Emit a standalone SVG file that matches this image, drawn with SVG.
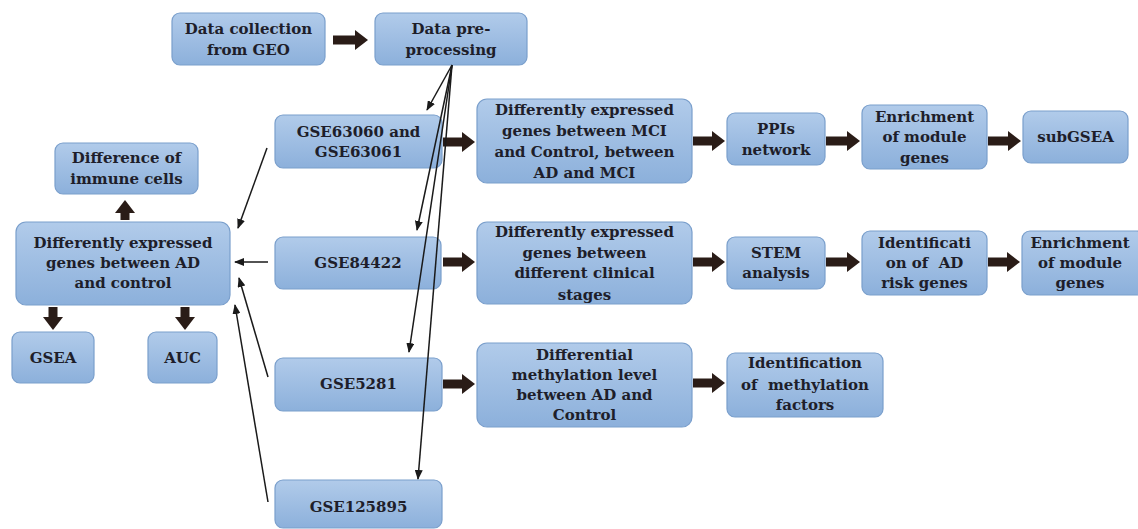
<svg xmlns="http://www.w3.org/2000/svg" width="1138" height="529" viewBox="0 0 1138 529">
<defs>
<linearGradient id="g" x1="0" y1="0" x2="0" y2="1">
<stop offset="0" stop-color="#b1cbea"/>
<stop offset="1" stop-color="#8cb0db"/>
</linearGradient>
<marker id="fat" markerUnits="userSpaceOnUse" markerWidth="14" markerHeight="20" refX="1" refY="10" orient="auto" viewBox="0 0 14 20">
<path d="M0,0 L13,10 L0,20 z" fill="#2a1c17"/>
</marker>
<marker id="thin" markerUnits="userSpaceOnUse" markerWidth="10" markerHeight="8" refX="9" refY="4" orient="auto" viewBox="0 0 10 8">
<path d="M0,0 L10,4 L0,8 z" fill="#1a1a1a"/>
</marker>
</defs>
<style>
.b{fill:url(#g);stroke:#7a9fcc;stroke-width:1.2}
.t{font-family:"DejaVu Serif","Liberation Serif",serif;font-weight:bold;font-size:15px;fill:#1e1e2a;text-anchor:middle;white-space:pre}
.fa{stroke:#2a1c17;stroke-width:9;fill:none;marker-end:url(#fat)}
.ta{stroke:#1a1a1a;stroke-width:1.5;fill:none;marker-end:url(#thin)}
</style>
<rect width="1138" height="529" fill="#ffffff"/>

<g id="n1"><rect class="b" x="172" y="13" width="153" height="52" rx="8"/><text class="t" x="248.5" y="34">Data collection</text><text class="t" x="248.5" y="55">from GEO</text></g>
<g id="n2"><rect class="b" x="375" y="13" width="152" height="52" rx="8"/><text class="t" x="451" y="34">Data pre-</text><text class="t" x="451" y="55">processing</text></g>
<g id="n3"><rect class="b" x="275" y="115" width="167" height="53" rx="8"/><text class="t" x="358.5" y="137">GSE63060 and</text><text class="t" x="358.5" y="157">GSE63061</text></g>
<g id="n4"><rect class="b" x="477" y="99" width="215" height="84" rx="10"/><text class="t" x="584.5" y="115">Differently expressed</text><text class="t" x="584.5" y="136">genes between MCI</text><text class="t" x="584.5" y="157">and Control, between</text><text class="t" x="584.5" y="178">AD and MCI</text></g>
<g id="n5"><rect class="b" x="727" y="113" width="98" height="52" rx="8"/><text class="t" x="776" y="134">PPIs</text><text class="t" x="776" y="155">network</text></g>
<g id="n6"><rect class="b" x="862" y="105" width="125" height="64" rx="8"/><text class="t" x="924.5" y="122">Enrichment</text><text class="t" x="924.5" y="142">of module</text><text class="t" x="924.5" y="163">genes</text></g>
<g id="n7"><rect class="b" x="1023" y="111" width="105" height="52" rx="8"/><text class="t" x="1075.5" y="142">subGSEA</text></g>
<g id="n8"><rect class="b" x="275" y="237" width="166" height="52" rx="8"/><text class="t" x="358" y="268">GSE84422</text></g>
<g id="n9"><rect class="b" x="477" y="222" width="215" height="82" rx="10"/><text class="t" x="584.5" y="237">Differently expressed</text><text class="t" x="584.5" y="258">genes between</text><text class="t" x="584.5" y="278">different clinical</text><text class="t" x="584.5" y="300">stages</text></g>
<g id="n10"><rect class="b" x="727" y="237" width="98" height="52" rx="8"/><text class="t" x="776" y="258">STEM</text><text class="t" x="776" y="278">analysis</text></g>
<g id="n11"><rect class="b" x="862" y="231" width="125" height="64" rx="8"/><text class="t" x="924.5" y="248">Identificati</text><text class="t" x="924.5" y="268">on of  AD</text><text class="t" x="924.5" y="288">risk genes</text></g>
<g id="n12"><rect class="b" x="1022" y="231" width="122" height="64" rx="8"/><text class="t" x="1080" y="248">Enrichment</text><text class="t" x="1080" y="268">of module</text><text class="t" x="1080" y="288">genes</text></g>
<g id="n13"><rect class="b" x="275" y="358" width="167" height="53" rx="8"/><text class="t" x="358.5" y="389">GSE5281</text></g>
<g id="n14"><rect class="b" x="477" y="343" width="215" height="84" rx="10"/><text class="t" x="584.5" y="360">Differential</text><text class="t" x="584.5" y="380">methylation level</text><text class="t" x="584.5" y="400">between AD and</text><text class="t" x="584.5" y="420">Control</text></g>
<g id="n15"><rect class="b" x="727" y="353" width="156" height="64" rx="8"/><text class="t" x="805" y="368">Identification</text><text class="t" x="805" y="390">of  methylation</text><text class="t" x="805" y="410">factors</text></g>
<g id="n16"><rect class="b" x="275" y="480" width="167" height="48" rx="8"/><text class="t" x="358.5" y="512">GSE125895</text></g>
<g id="n17"><rect class="b" x="55" y="143" width="143" height="51" rx="8"/><text class="t" x="126.5" y="163">Difference of</text><text class="t" x="126.5" y="184">immune cells</text></g>
<g id="n18"><rect class="b" x="16" y="222" width="214" height="83" rx="10"/><text class="t" x="123" y="248">Differently expressed</text><text class="t" x="123" y="268">genes between AD</text><text class="t" x="123" y="288">and control</text></g>
<g id="n19"><rect class="b" x="12" y="332" width="82" height="51" rx="8"/><text class="t" x="53" y="363">GSEA</text></g>
<g id="n20"><rect class="b" x="148" y="332" width="69" height="51" rx="8"/><text class="t" x="182.5" y="363">AUC</text></g>

<g id="connectors">
<line class="fa" x1="333" y1="40" x2="356" y2="40"/>
<line class="fa" x1="443" y1="142" x2="463" y2="142"/>
<line class="fa" x1="693" y1="141" x2="713" y2="141"/>
<line class="fa" x1="826" y1="141" x2="848" y2="141"/>
<line class="fa" x1="988" y1="141" x2="1009" y2="141"/>
<line class="fa" x1="443" y1="262" x2="463" y2="262"/>
<line class="fa" x1="693" y1="262" x2="713" y2="262"/>
<line class="fa" x1="826" y1="262" x2="848" y2="262"/>
<line class="fa" x1="988" y1="262" x2="1008" y2="262"/>
<line class="fa" x1="443" y1="384" x2="463" y2="384"/>
<line class="fa" x1="693" y1="383" x2="713" y2="383"/>
<line class="fa" x1="125" y1="220" x2="125" y2="212"/>
<line class="fa" x1="53" y1="307" x2="53" y2="318"/>
<line class="fa" x1="185" y1="307" x2="185" y2="318"/>

<line class="ta" x1="452" y1="65" x2="427" y2="110"/>
<line class="ta" x1="452" y1="65" x2="417" y2="230"/>
<line class="ta" x1="452" y1="65" x2="409" y2="352"/>
<line class="ta" x1="452" y1="65" x2="418" y2="479"/>

<line class="ta" x1="267" y1="148" x2="238" y2="228"/>
<line class="ta" x1="268" y1="262" x2="235" y2="262"/>
<line class="ta" x1="268" y1="377" x2="239" y2="278"/>
<line class="ta" x1="268" y1="502" x2="235" y2="305"/>
</g>
</svg>
